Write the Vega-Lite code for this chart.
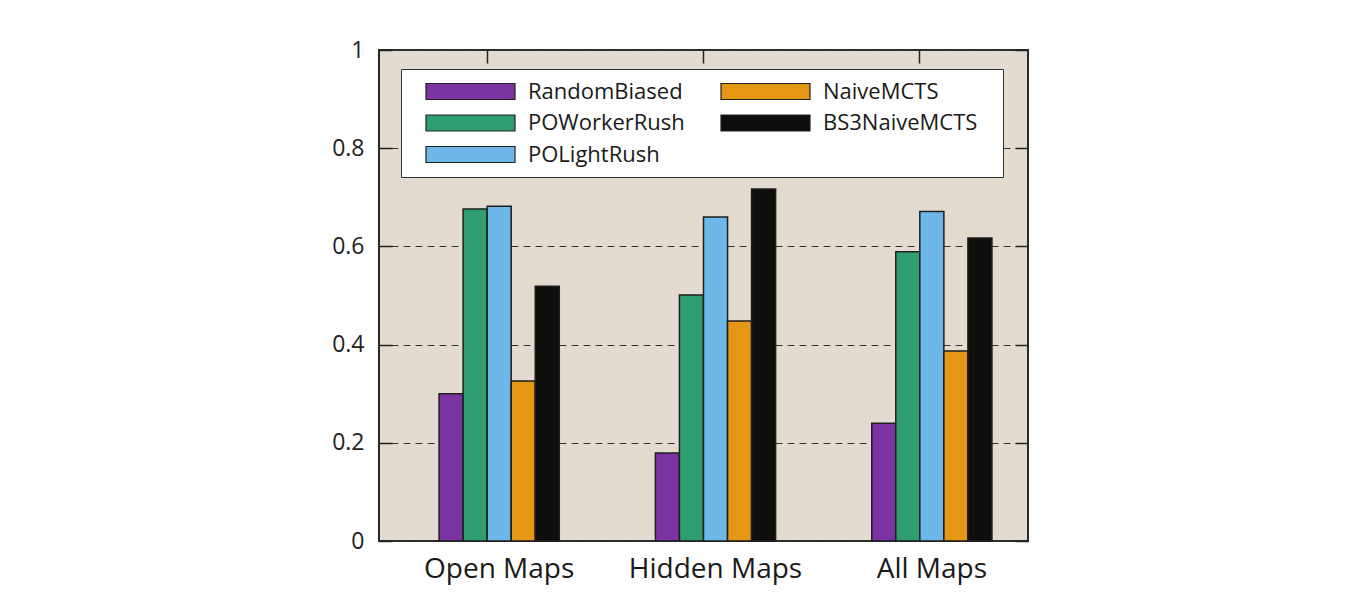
{
  "$schema": "https://vega.github.io/schema/vega-lite/v6.json",
  "width": 649,
  "height": 491,
  "autosize": {"type": "none"},
  "padding": {"left": 379, "top": 50, "right": 331, "bottom": 62},
  "background": "white",
  "config": {
    "font": "Open Sans",
    "view": {"fill": "#E3DBCF", "stroke": "#2a2a2a", "strokeWidth": 2},
    "axis": {"labelFont": "Open Sans", "labelColor": "#222222"}
  },
  "data": {
    "values": [
      {"group": "Open Maps", "ai": "RandomBiased", "value": 0.300},
      {"group": "Open Maps", "ai": "POWorkerRush", "value": 0.676},
      {"group": "Open Maps", "ai": "POLightRush", "value": 0.682},
      {"group": "Open Maps", "ai": "NaiveMCTS", "value": 0.326},
      {"group": "Open Maps", "ai": "BS3NaiveMCTS", "value": 0.519},
      {"group": "Hidden Maps", "ai": "RandomBiased", "value": 0.179},
      {"group": "Hidden Maps", "ai": "POWorkerRush", "value": 0.501},
      {"group": "Hidden Maps", "ai": "POLightRush", "value": 0.660},
      {"group": "Hidden Maps", "ai": "NaiveMCTS", "value": 0.448},
      {"group": "Hidden Maps", "ai": "BS3NaiveMCTS", "value": 0.717},
      {"group": "All Maps", "ai": "RandomBiased", "value": 0.240},
      {"group": "All Maps", "ai": "POWorkerRush", "value": 0.589},
      {"group": "All Maps", "ai": "POLightRush", "value": 0.671},
      {"group": "All Maps", "ai": "NaiveMCTS", "value": 0.387},
      {"group": "All Maps", "ai": "BS3NaiveMCTS", "value": 0.617}
    ]
  },
  "layer": [
    {
      "mark": {"type": "bar", "stroke": "#1e1e1e", "strokeWidth": 1.5},
      "encoding": {
        "x": {
          "field": "group", "type": "nominal",
          "sort": ["Open Maps", "Hidden Maps", "All Maps"],
          "scale": {"paddingInner": 0.4444, "paddingOuter": 0.2222, "align": 0.625},
          "axis": {"title": null, "labelAngle": 0, "ticks": false, "domain": false, "labelFontSize": 28, "labelPadding": 14, "labelColor": "#1a1a1a"}
        },
        "xOffset": {
          "field": "ai", "type": "nominal",
          "sort": ["RandomBiased", "POWorkerRush", "POLightRush", "NaiveMCTS", "BS3NaiveMCTS"],
          "scale": {"paddingInner": 0, "paddingOuter": 0}
        },
        "y": {
          "field": "value", "type": "quantitative",
          "scale": {"domain": [0, 1], "nice": false},
          "axis": {
            "title": null, "values": [0, 0.2, 0.4, 0.6, 0.8, 1], "format": "~g",
            "labelFontSize": 23, "domain": false,
            "tickSize": -13, "tickColor": "#222222", "tickWidth": 1.5,
            "labelPadding": 28,
            "grid": true, "gridColor": "#333333", "gridDash": [7, 5], "gridWidth": 1.2
          }
        },
        "color": {
          "field": "ai", "type": "nominal",
          "scale": {
            "domain": ["RandomBiased", "NaiveMCTS", "POWorkerRush", "BS3NaiveMCTS", "POLightRush"],
            "range": ["#7A33A0", "#E39715", "#2F9E6E", "#100E0D", "#6DB8E8"]
          },
          "legend": {
            "title": " ",
            "titleOrient": "right",
            "titleFontSize": 10,
            "titlePadding": 14,
            "orient": "none",
            "legendX": 22,
            "legendY": 19,
            "columns": 2,
            "direction": "horizontal",
            "fillColor": "white",
            "strokeColor": "#333333",
            "padding": 11.5,
            "symbolOffset": 10.5,
            "symbolType": "M-1,-1H10.125V1H-1Z",
            "symbolSize": 256,
            "symbolStrokeColor": "#222222",
            "symbolStrokeWidth": 1.2,
            "symbolOpacity": 1,
            "labelOffset": 83,
            "labelFontSize": 22,
            "labelFont": "Open Sans",
            "labelColor": "#1a1a1a",
            "labelLimit": 300,
            "rowPadding": 9.5,
            "columnPadding": 22
          }
        }
      }
    },
    {
      "mark": {"type": "bar", "opacity": 0},
      "encoding": {
        "x": {
          "field": "group", "type": "nominal",
          "sort": ["Open Maps", "Hidden Maps", "All Maps"],
          "scale": {"paddingInner": 0, "paddingOuter": 0},
          "axis": {"orient": "top", "title": null, "labels": false, "domain": false, "tickSize": -13, "tickColor": "#222222", "tickWidth": 1.5}
        },
        "y": {
          "field": "value", "type": "quantitative",
          "axis": {"orient": "right", "title": null, "labels": false, "domain": false, "values": [0, 0.2, 0.4, 0.6, 0.8, 1], "tickSize": -13, "tickColor": "#222222", "tickWidth": 1.5, "grid": false}
        }
      }
    }
  ],
  "resolve": {"scale": {"x": "independent"}, "axis": {"x": "independent", "y": "independent"}}
}
